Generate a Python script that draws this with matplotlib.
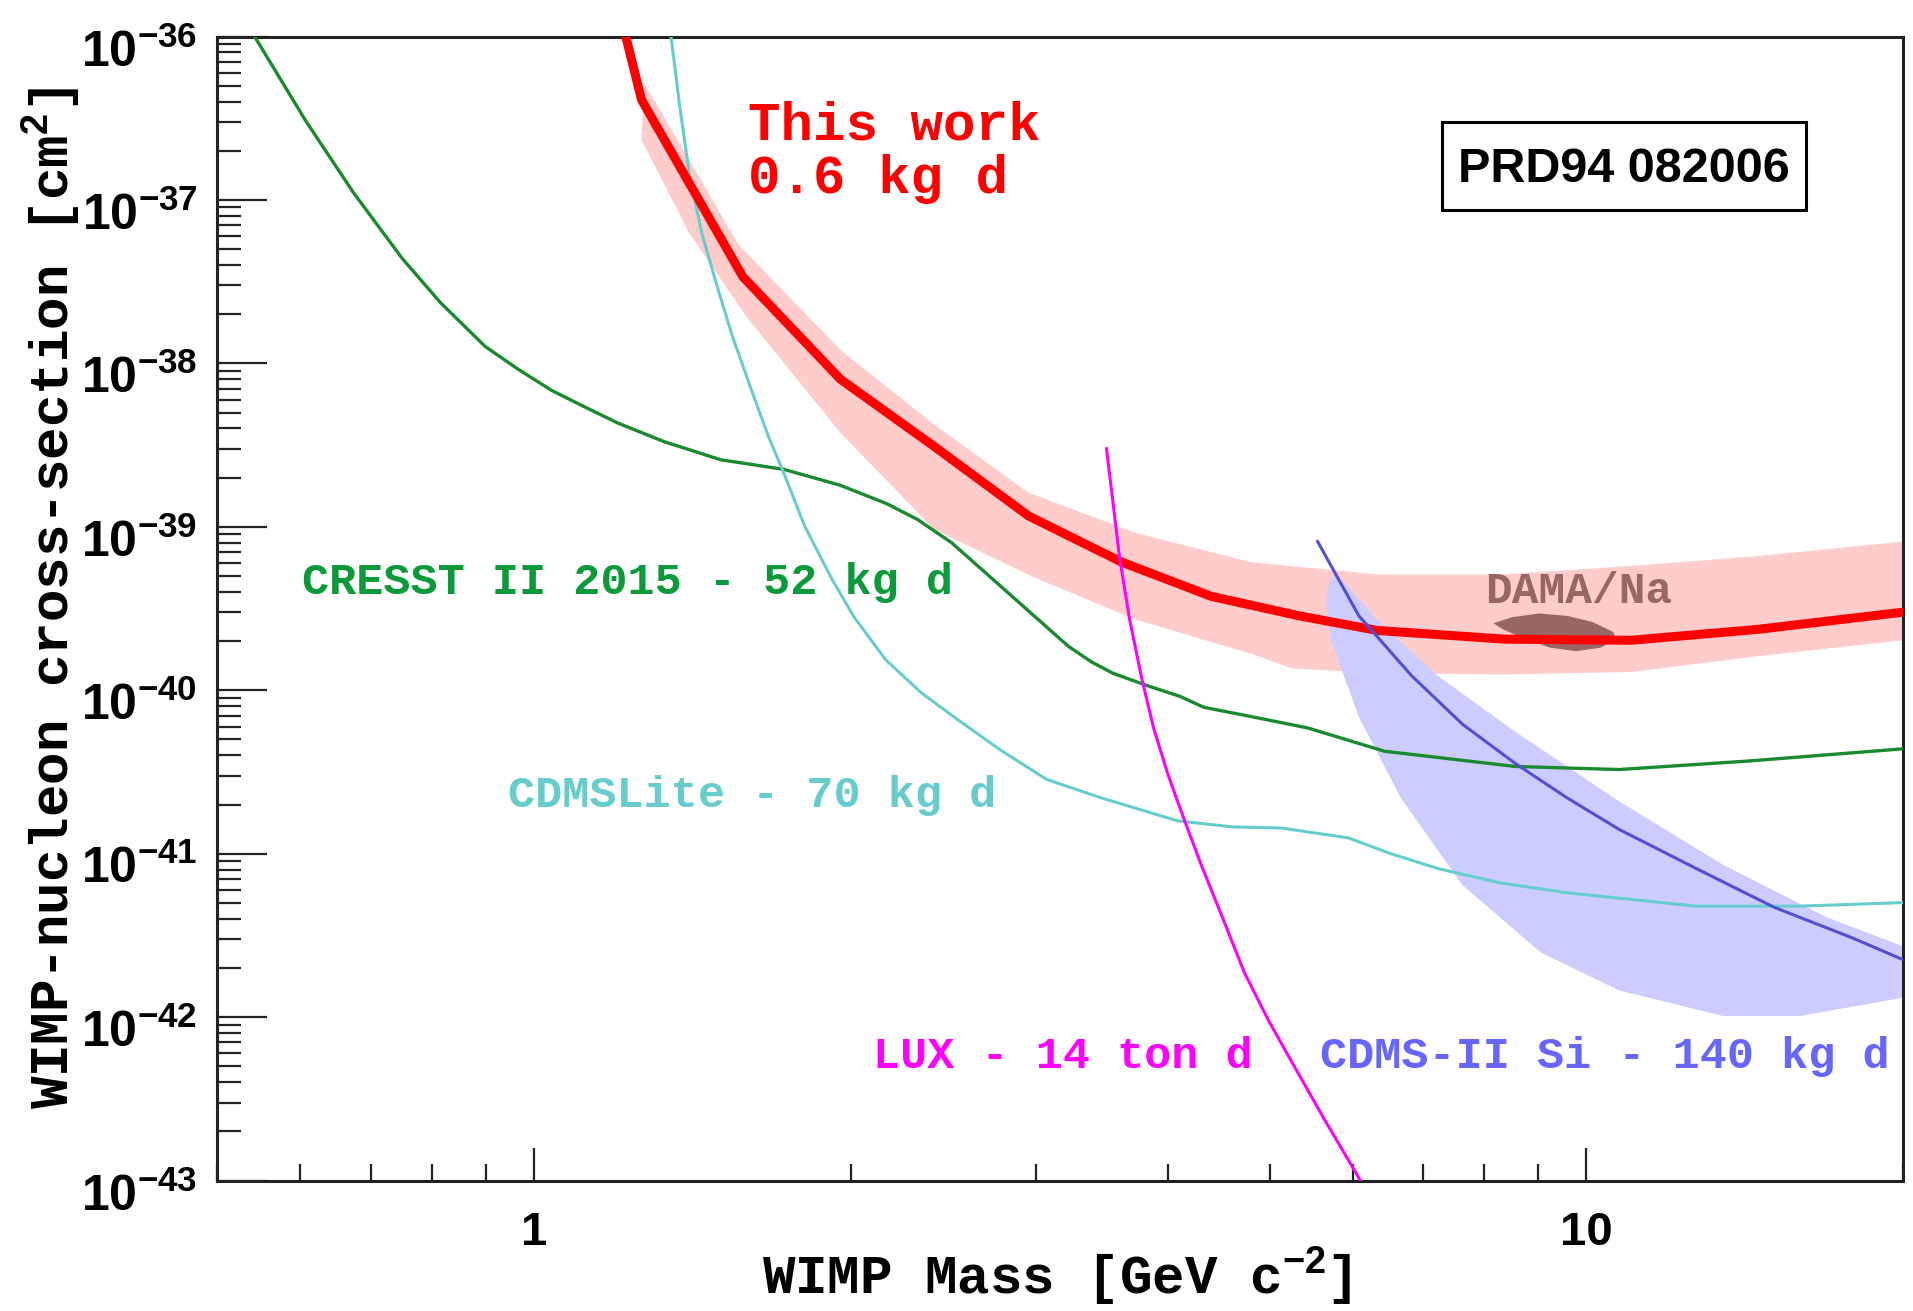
import numpy as np
import matplotlib
matplotlib.use("Agg")
import matplotlib.pyplot as plt
from matplotlib.ticker import LogLocator, FixedLocator, FuncFormatter, NullFormatter
from matplotlib.patches import Rectangle
from matplotlib.transforms import ScaledTranslation

plt.rcParams['mathtext.fontset'] = 'custom'
plt.rcParams['mathtext.rm'] = 'Liberation Sans:bold'
plt.rcParams['mathtext.it'] = 'Liberation Sans:bold'
plt.rcParams['mathtext.bf'] = 'Liberation Sans:bold'

# ---------------- data (WIMP mass in GeV, log10 of cross-section in cm^2) ----------------
x_major_ticks = [1, 10]
y_major_exponents = [-43, -42, -41, -40, -39, -38, -37, -36]

this_work_mass = [1.223, 1.266, 1.580, 1.956, 2.40, 2.951, 3.62, 4.40, 5.34, 6.33, 8.36, 11.03, 14.56, 20.0]
this_work_logxs = [-36.0, -36.388, -37.47, -38.097, -38.507, -38.933, -39.216, -39.425, -39.545,
                   -39.634, -39.687, -39.694, -39.627, -39.522]

band_upper_mass = [1.273, 1.405, 1.563, 1.956, 2.40, 2.951, 3.73, 4.80, 6.33, 8.36, 11.03, 14.56, 20.0]
band_upper_logxs = [-36.284, -36.754, -37.269, -37.918, -38.373, -38.791, -39.037, -39.216, -39.291,
                    -39.291, -39.239, -39.179, -39.09]
band_lower_mass = [1.266, 1.405, 1.593, 1.956, 2.40, 2.98, 3.73, 4.80, 5.25, 6.33, 8.36, 11.03, 14.56, 20.0]
band_lower_logxs = [-36.634, -37.201, -37.716, -38.425, -39.015, -39.306, -39.567, -39.776, -39.866,
                    -39.896, -39.903, -39.888, -39.791, -39.694]

cresst_mass = [0.543, 0.606, 0.674, 0.750, 0.815, 0.899, 0.967, 1.039, 1.120, 1.203, 1.329, 1.506, 1.614,
               1.73, 1.956, 2.164, 2.315, 2.494, 2.78, 3.006, 3.22, 3.39, 3.55, 3.82, 4.11, 4.33, 4.83,
               5.44, 6.43, 8.55, 10.74, 14.25, 20.0]
cresst_logxs = [-36.0, -36.507, -36.955, -37.358, -37.627, -37.896, -38.037, -38.164, -38.269, -38.366,
                -38.478, -38.590, -38.619, -38.649, -38.746, -38.858, -38.955, -39.097, -39.366, -39.56,
                -39.731, -39.828, -39.896, -39.97, -40.037, -40.104, -40.164, -40.231, -40.373, -40.466,
                -40.485, -40.433, -40.358]

cdmslite_mass = [1.35, 1.375, 1.405, 1.443, 1.490, 1.543, 1.61, 1.671, 1.726, 1.81, 1.920, 2.015, 2.159,
                 2.334, 2.527, 2.776, 3.07, 3.455, 4.09, 4.61, 5.13, 5.94, 6.52, 7.22, 8.29, 9.58, 12.71,
                 15.95, 20.0]
cdmslite_logxs = [-36.0, -36.41, -36.836, -37.194, -37.507, -37.828, -38.164, -38.448, -38.664, -39.0,
                  -39.321, -39.552, -39.813, -40.015, -40.179, -40.366, -40.545, -40.657, -40.799, -40.836,
                  -40.843, -40.903, -41.0, -41.09, -41.179, -41.239, -41.321, -41.321, -41.299]

lux_mass = [3.50, 3.548, 3.60, 3.68, 3.78, 3.88, 4.00, 4.14, 4.31, 4.49, 4.73, 4.99, 5.26, 5.63, 6.10]
lux_logxs = [-38.522, -38.836, -39.179, -39.56, -39.925, -40.231, -40.507, -40.776, -41.075, -41.358,
             -41.724, -42.022, -42.284, -42.619, -43.0]

cdms_si_mass = [5.555, 6.08, 6.82, 7.63, 8.56, 9.58, 10.74, 12.71, 15.08, 17.89, 20.0]
cdms_si_logxs = [-39.09, -39.545, -39.91, -40.209, -40.448, -40.657, -40.851, -41.09, -41.328, -41.515,
                 -41.649]

cdms_si_region_mass = [5.69, 5.75, 5.86, 6.43, 7.22, 8.56, 10.74, 13.48, 16.9, 20.0,
                       20.0, 15.95, 13.48, 10.74, 9.05, 7.63, 6.66, 6.08, 5.72, 5.66]
cdms_si_region_logxs = [-39.351, -39.299, -39.328, -39.612, -39.910, -40.254, -40.679, -41.067, -41.388,
                        -41.567, -41.881, -41.993, -41.993, -41.836, -41.604, -41.194, -40.657, -40.164,
                        -39.694, -39.47]

dama_mass = [8.16, 8.51, 9.03, 9.60, 10.13, 10.60, 10.68, 10.32, 9.78, 9.23, 8.70, 8.33]
dama_logxs = [-39.59, -39.552, -39.53, -39.545, -39.582, -39.642, -39.687, -39.739, -39.761, -39.739,
              -39.679, -39.627]

labels = {
    'this_work': 'This work\n0.6 kg d',
    'cresst': 'CRESST II 2015 - 52 kg d',
    'cdmslite': 'CDMSLite - 70 kg d',
    'lux': 'LUX - 14 ton d',
    'cdms_si': 'CDMS-II Si - 140 kg d',
    'dama': 'DAMA/Na',
    'ref': 'PRD94 082006',
}

def p(v):
    return 10.0 ** np.asarray(v)

# ---------------- figure ----------------
fig = plt.figure(figsize=(19.13, 13.11), dpi=100)
ax = fig.add_axes([0.1134, 0.0995, 0.9949 - 0.1134, 0.9721 - 0.0995])
ax.set_xscale('log')
ax.set_yscale('log')

# bands
band_x = list(band_upper_mass) + list(band_lower_mass[::-1])
band_y = list(band_upper_logxs) + list(band_lower_logxs[::-1])
ax.fill(band_x, p(band_y), color='#ffcccc', lw=0, zorder=1)
ax.fill(cdms_si_region_mass, p(cdms_si_region_logxs), color='#ccccff', lw=0, zorder=2)
ax.fill(dama_mass, p(dama_logxs), color='#996666', lw=0, zorder=3)

# lines
ax.plot(cresst_mass, p(cresst_logxs), color='#1a8a2e', lw=2.4, zorder=4)
ax.plot(cdmslite_mass, p(cdmslite_logxs), color='#66cccc', lw=2.2, zorder=4)
ax.plot(this_work_mass, p(this_work_logxs), color='#ff0000', lw=6.5, zorder=5,
        solid_joinstyle='round')
ax.plot(lux_mass, p(lux_logxs), color='#ff00ff', lw=2.2, zorder=6)
ax.plot(cdms_si_mass, p(cdms_si_logxs), color='#5050d0', lw=2.2, zorder=6)

ax.set_xlim(0.5, 20)
ax.set_ylim(1e-43, 1e-36)

# ticks
ax.xaxis.set_major_locator(FixedLocator(x_major_ticks))
ax.xaxis.set_minor_locator(LogLocator(base=10, subs=np.arange(2, 10), numticks=20))
ax.yaxis.set_major_locator(FixedLocator(p(y_major_exponents)))
ax.yaxis.set_minor_locator(LogLocator(base=10, subs=np.arange(2, 10), numticks=100))
ax.xaxis.set_major_formatter(FuncFormatter(lambda v, pos: '%d' % round(v)))
ax.xaxis.set_minor_formatter(NullFormatter())
ax.yaxis.set_major_formatter(FuncFormatter(lambda v, pos: r'$10^{%d}$' % round(np.log10(v))))
ax.yaxis.set_minor_formatter(NullFormatter())

ax.tick_params(which='both', direction='in', top=False, right=False, color='#222222', width=1.6)
ax.tick_params(axis='x', which='major', length=24, pad=22, labelsize=34)
ax.tick_params(axis='x', which='minor', length=12)
ax.tick_params(axis='y', which='major', length=36, pad=14, labelsize=36)
ax.tick_params(axis='y', which='minor', length=17)
for lab in ax.get_xticklabels() + ax.get_yticklabels():
    lab.set_fontfamily('Liberation Sans')
    lab.set_fontweight('bold')

# shift y tick labels slightly downward (as in the reference)
off = ScaledTranslation(0, -11 / 100, fig.dpi_scale_trans)
for t in ax.yaxis.get_major_ticks():
    t.label1.set_transform(t.label1.get_transform() + off)

for s in ax.spines.values():
    s.set_linewidth(2.2)
    s.set_color('#222222')

# axis labels
mono = 'Liberation Mono'
fig.text(0.5523, 0.027, r'WIMP Mass [GeV c$^{-2}$]', ha='center', va='center',
         fontsize=39, fontfamily=mono, fontweight='bold')
fig.text(0.0265, 0.544, r'WIMP-nucleon cross-section [cm$^{2}$]', ha='center', va='center',
         rotation=90, fontsize=39, fontfamily=mono, fontweight='bold')

# annotations
tw1, tw2 = labels['this_work'].split('\n')
ax.text(0.3148, 0.9096, tw1, transform=ax.transAxes, color='#ff0000', fontsize=39,
        fontfamily=mono, fontweight='bold', va='baseline', ha='left')
ax.text(0.3148, 0.8631, tw2, transform=ax.transAxes, color='#ff0000', fontsize=39,
        fontfamily=mono, fontweight='bold', va='baseline', ha='left')
ax.text(0.0507, 0.5128, labels['cresst'], transform=ax.transAxes, color='#0a9a3a', fontsize=32.5,
        fontfamily=mono, fontweight='bold', va='baseline', ha='left')
ax.text(0.1729, 0.3262, labels['cdmslite'], transform=ax.transAxes, color='#66cccc', fontsize=32.5,
        fontfamily=mono, fontweight='bold', va='baseline', ha='left')
ax.text(0.3893, 0.0986, labels['lux'], transform=ax.transAxes, color='#ff00ff', fontsize=32.5,
        fontfamily=mono, fontweight='bold', va='baseline', ha='left')
ax.text(0.6541, 0.0986, labels['cdms_si'], transform=ax.transAxes, color='#6666ff', fontsize=32.5,
        fontfamily=mono, fontweight='bold', va='baseline', ha='left')
ax.text(0.7518, 0.5053, labels['dama'], transform=ax.transAxes, color='#996666', fontsize=32,
        fontfamily=mono, fontweight='bold', va='baseline', ha='left', zorder=7)

# reference box
ax.add_patch(Rectangle((0.7265, 0.8486), 0.9421 - 0.7265, 0.9254 - 0.8486, transform=ax.transAxes,
                       fill=False, edgecolor='black', lw=2.2, zorder=8))
ax.text(0.8343, 0.884, labels['ref'], transform=ax.transAxes, ha='center', va='center',
        fontsize=35, fontfamily='Liberation Sans', fontweight='bold', color='black', zorder=8)

fig.savefig('out.png', dpi=100, facecolor='white')
